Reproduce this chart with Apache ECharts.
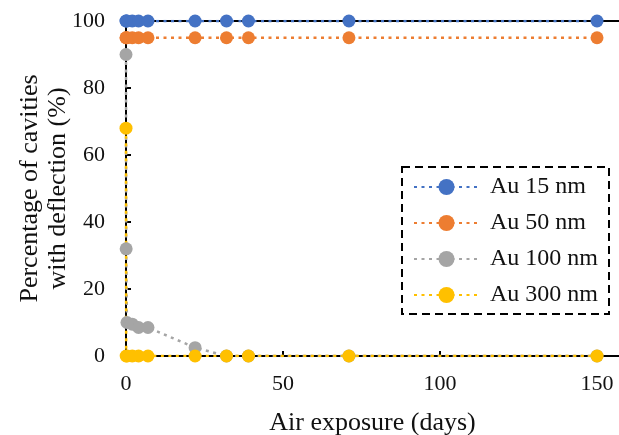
<!DOCTYPE html>
<html>
<head>
<meta charset="utf-8">
<script src="https://cdn.jsdelivr.net/npm/echarts@6/dist/echarts.min.js"></script>
<style>
  html, body { margin: 0; padding: 0; background: #fff; }
  #chart { width: 619px; height: 435px; }
</style>
</head>
<body>
<div id="chart"></div>
<script>
// air exposure (days)
var days = [0, 0.05, 0.3, 2, 4, 7, 22, 32, 39, 71, 150];
var au15 = [100, 100, 100, 100, 100, 100, 100, 100, 100, 100, 100];
var au50 = [95, 95, 95, 95, 95, 95, 95, 95, 95, 95, 95];
var au100 = [90, 32, 10, 9.5, 8.5, 8.5, 2.5, 0, 0, 0, 0];
var au300 = [68, 0, 0, 0, 0, 0, 0, 0, 0, 0, 0];
var names = ['Au 15 nm', 'Au 50 nm', 'Au 100 nm', 'Au 300 nm'];
var colors = ['#4472C4', '#ED7D31', '#A5A5A5', '#FFC000'];
var xTicks = [0, 50, 100, 150];
var yTicks = [0, 20, 40, 60, 80, 100];

var font = '"Liberation Serif", "Times New Roman", serif';

function pairs(vals) {
    return days.map(function (d, i) { return [d, vals[i]]; });
}

function mkSeries(name, vals, color) {
    return {
        name: name,
        type: 'line',
        data: pairs(vals),
        symbol: 'circle',
        symbolSize: 13,
        showAllSymbol: true,
        itemStyle: { color: color },
        lineStyle: { color: color, width: 2.5, type: [3, 4.5] },
        emphasis: { disabled: true }
    };
}

var chart = echarts.init(document.getElementById('chart'));
chart.setOption({
    animation: false,
    textStyle: { fontFamily: font },
    color: colors,
    grid: { left: 126, top: 21, bottom: 79, right: 0, outerBoundsMode: 'none', containLabel: false },
    legend: {
        orient: 'vertical',
        left: 402, top: 167,
        padding: [7, 11, 6, 11],
        itemWidth: 65, itemHeight: 20, itemGap: 10,
        borderColor: '#000', borderWidth: 2, borderType: [8, 5],
        textStyle: { fontFamily: font, fontSize: 24, lineHeight: 26, color: '#111', padding: [0, 0, 0, 6] },
        data: names
    },
    xAxis: [{
        type: 'value',
        min: 0, max: 157, interval: 50,
        name: 'Air exposure (days)',
        nameLocation: 'middle',
        nameGap: 54,
        nameMoveOverlap: false,
        nameTextStyle: { fontFamily: font, fontSize: 26, color: '#111' },
        splitLine: { show: false },
        axisLine: { lineStyle: { color: '#000', width: 2 } },
        axisTick: { inside: true, length: 5, lineStyle: { color: '#000', width: 2 } },
        axisLabel: {
            fontFamily: font, fontSize: 22, color: '#111', margin: 17,
            showMaxLabel: false,
            formatter: function (v) { return xTicks.indexOf(v) >= 0 ? String(v) : ''; }
        }
    }, {
        // plain line along the top of the plot
        type: 'value',
        position: 'top',
        min: 0, max: 157,
        splitLine: { show: false },
        axisLine: { show: true, lineStyle: { color: '#000', width: 2 } },
        axisTick: { show: false },
        axisLabel: { show: false }
    }],
    yAxis: {
        type: 'value',
        min: 0, max: 100, interval: 20,
        name: 'Percentage of cavities\nwith deflection (%)',
        nameLocation: 'middle',
        nameGap: 54,
        nameMoveOverlap: false,
        nameTextStyle: { fontFamily: font, fontSize: 26, color: '#111', lineHeight: 28 },
        splitLine: { show: false },
        axisLine: { lineStyle: { color: '#000', width: 2 } },
        axisTick: { inside: true, length: 5, lineStyle: { color: '#000', width: 2 } },
        axisLabel: {
            fontFamily: font, fontSize: 22, color: '#111', margin: 21,
            formatter: function (v) { return yTicks.indexOf(v) >= 0 ? String(v) : ''; }
        }
    },
    series: [
        mkSeries(names[0], au15, colors[0]),
        mkSeries(names[1], au50, colors[1]),
        mkSeries(names[2], au100, colors[2]),
        mkSeries(names[3], au300, colors[3])
    ]
});
window.addEventListener('resize', function () {
    chart.resize();
});
</script>
</body>
</html>
